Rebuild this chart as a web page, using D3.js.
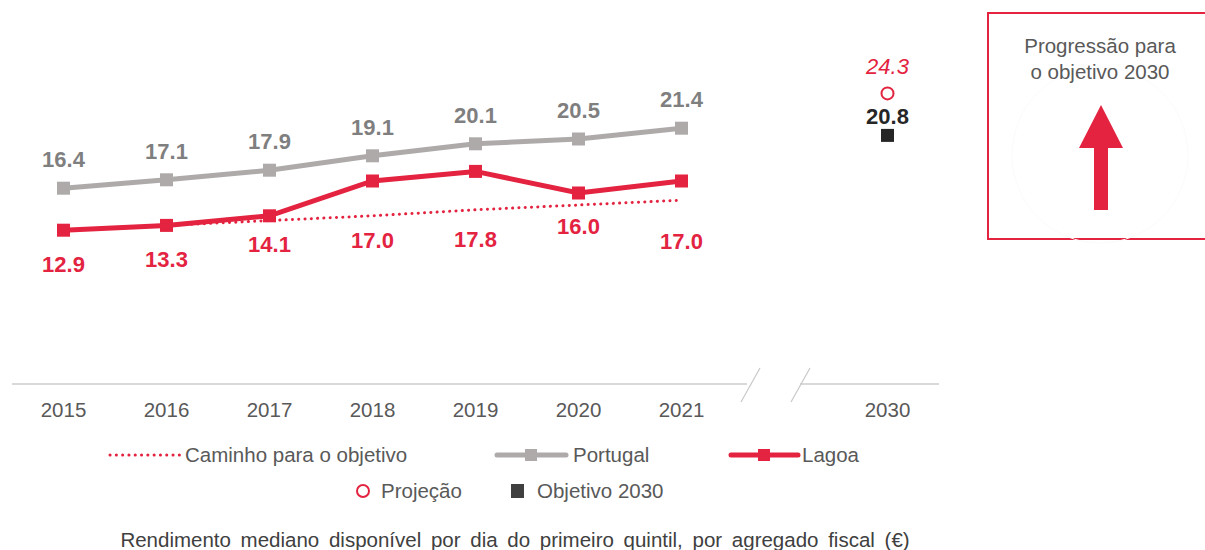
<!DOCTYPE html>
<html>
<head>
<meta charset="utf-8">
<script src="https://cdn.jsdelivr.net/npm/d3@7"></script>
<style>
  body { margin: 0; background: #fff; }
  svg { font-family: "Liberation Sans", Arial, sans-serif; }
</style>
</head>
<body>
<div id="container"></div>
<script>
/* DATA */
const years = ["2015", "2016", "2017", "2018", "2019", "2020", "2021"]
const portugal = [16.4, 17.1, 17.9, 19.1, 20.1, 20.5, 21.4]
const lagoa = [12.9, 13.3, 14.1, 17.0, 17.8, 16.0, 17.0]
const pathYears = ["2016", "2017", "2018", "2019", "2020", "2021"]
const pathValues = [13.3, 13.7, 14.1, 14.6, 15.0, 15.4]
const targetYear = "2030"
const projection = 24.3
const target = 20.8

/* CONSTANTS */
const width = 1205
const height = 550
const red = "#e3233f"
const grey = "#aeaaaa"
const textGrey = "#595959"
const fs = 20.5   // regular text
const fsb = 22    // bold value labels
// label nudges for Lagoa, px below each point (manually placed in the original)
const lagoaLabelDy = [34, 34, 28, 59, 68, 33, 60]

const svg = d3.select("#container")
  .append("svg")
  .attr("width", width)
  .attr("height", height)

/* SCALES */
const xScale = d3.scaleBand()
  .domain([...years, "gap", targetYear])
  .range([12, 939])
const xc = d => xScale(d) + xScale.bandwidth() / 2

const yScale = d3.scaleLinear()
  .domain([0, 30])
  .range([385, 25])

/* AXIS with break */
const axisY = 384
const breakX = xScale("gap")
svg.append("line")
  .attr("x1", 12).attr("x2", breakX + 14)
  .attr("y1", axisY).attr("y2", axisY)
  .attr("stroke", "#d9d9d9").attr("stroke-width", 2)
svg.append("line")
  .attr("x1", breakX + 67).attr("x2", 939)
  .attr("y1", axisY).attr("y2", axisY)
  .attr("stroke", "#d9d9d9").attr("stroke-width", 2)
;[breakX + 17, breakX + 67].forEach(x => {
  svg.append("line")
    .attr("x1", x + 10).attr("y1", axisY - 16)
    .attr("x2", x - 9).attr("y2", axisY + 18)
    .attr("stroke", "#c8c8c8").attr("stroke-width", 1.2)
})

svg.selectAll(".year")
  .data([...years, targetYear])
  .join("text")
  .attr("class", "year")
  .attr("x", d => xc(d))
  .attr("y", 417)
  .attr("text-anchor", "middle")
  .attr("font-size", fs)
  .attr("fill", textGrey)
  .text(d => d)

/* LINES */
const line = d3.line()
  .x(d => xc(d[0]))
  .y(d => yScale(d[1]))

svg.append("path")
  .datum(d3.zip(pathYears, pathValues))
  .attr("d", line)
  .attr("fill", "none")
  .attr("stroke", red)
  .attr("stroke-width", 3)
  .attr("stroke-linecap", "round")
  .attr("stroke-dasharray", "0.1 6.2")

svg.append("path")
  .datum(d3.zip(years, portugal))
  .attr("d", line)
  .attr("fill", "none")
  .attr("stroke", grey)
  .attr("stroke-width", 5)

svg.append("path")
  .datum(d3.zip(years, lagoa))
  .attr("d", line)
  .attr("fill", "none")
  .attr("stroke", red)
  .attr("stroke-width", 5)

const ms = 13
svg.selectAll(".pt-marker")
  .data(d3.zip(years, portugal))
  .join("rect")
  .attr("x", d => xc(d[0]) - ms / 2)
  .attr("y", d => yScale(d[1]) - ms / 2)
  .attr("width", ms).attr("height", ms)
  .attr("fill", grey)

svg.selectAll(".lg-marker")
  .data(d3.zip(years, lagoa))
  .join("rect")
  .attr("x", d => xc(d[0]) - ms / 2)
  .attr("y", d => yScale(d[1]) - ms / 2)
  .attr("width", ms).attr("height", ms)
  .attr("fill", red)

/* LABELS */
svg.selectAll(".pt-label")
  .data(d3.zip(years, portugal))
  .join("text")
  .attr("x", d => xc(d[0]))
  .attr("y", d => yScale(d[1]) - 21)
  .attr("text-anchor", "middle")
  .attr("font-size", fsb).attr("font-weight", "bold")
  .attr("fill", "#7f7f7f")
  .text(d => d[1].toFixed(1))

svg.selectAll(".lg-label")
  .data(d3.zip(years, lagoa))
  .join("text")
  .attr("x", d => xc(d[0]))
  .attr("y", (d, i) => yScale(d[1]) + lagoaLabelDy[i] + 8)
  .attr("text-anchor", "middle")
  .attr("font-size", fsb).attr("font-weight", "bold")
  .attr("fill", red)
  .text(d => d[1].toFixed(1))

/* 2030 points */
svg.append("circle")
  .attr("cx", xc(targetYear)).attr("cy", yScale(projection))
  .attr("r", 6)
  .attr("fill", "#fff").attr("stroke", red).attr("stroke-width", 2)
svg.append("text")
  .attr("x", xc(targetYear)).attr("y", yScale(projection) - 19)
  .attr("text-anchor", "middle")
  .attr("font-size", fsb).attr("font-style", "italic")
  .attr("fill", red)
  .text(projection.toFixed(1))

svg.append("rect")
  .attr("x", xc(targetYear) - 6.5).attr("y", yScale(target) - 6.5)
  .attr("width", 13).attr("height", 13)
  .attr("fill", "#262626")
svg.append("text")
  .attr("x", xc(targetYear)).attr("y", yScale(target) - 11)
  .attr("text-anchor", "middle")
  .attr("font-size", fsb).attr("font-weight", "bold")
  .attr("fill", "#262626")
  .text(target.toFixed(1))

/* LEGEND */
const lg = svg.append("g").attr("font-size", fs).attr("fill", textGrey)
const row1 = 455, row2 = 491

lg.append("line")
  .attr("x1", 110).attr("x2", 180).attr("y1", row1).attr("y2", row1)
  .attr("stroke", red).attr("stroke-width", 3)
  .attr("stroke-linecap", "round").attr("stroke-dasharray", "0.1 6.2")
lg.append("text").attr("x", 185).attr("y", row1 + 7).text("Caminho para o objetivo")

lg.append("line")
  .attr("x1", 497).attr("x2", 566).attr("y1", row1).attr("y2", row1)
  .attr("stroke", grey).attr("stroke-width", 5).attr("stroke-linecap", "round")
lg.append("rect").attr("x", 525).attr("y", row1 - 6).attr("width", 12).attr("height", 12).attr("fill", grey)
lg.append("text").attr("x", 573).attr("y", row1 + 7).text("Portugal")

lg.append("line")
  .attr("x1", 731).attr("x2", 798).attr("y1", row1).attr("y2", row1)
  .attr("stroke", red).attr("stroke-width", 5).attr("stroke-linecap", "round")
lg.append("rect").attr("x", 758).attr("y", row1 - 6).attr("width", 12).attr("height", 12).attr("fill", red)
lg.append("text").attr("x", 802).attr("y", row1 + 7).text("Lagoa")

lg.append("circle").attr("cx", 363).attr("cy", row2).attr("r", 6)
  .attr("fill", "#fff").attr("stroke", red).attr("stroke-width", 2)
lg.append("text").attr("x", 381).attr("y", row2 + 7).text("Projeção")
lg.append("rect").attr("x", 511).attr("y", row2 - 7).attr("width", 13).attr("height", 14).attr("fill", "#404040")
lg.append("text").attr("x", 537).attr("y", row2 + 7).text("Objetivo 2030")

/* CAPTION */
svg.append("text")
  .attr("x", 515).attr("y", 547)
  .attr("text-anchor", "middle")
  .attr("font-size", fs).attr("fill", "#404040")
  .attr("word-spacing", 4)
  .text("Rendimento mediano disponível por dia do primeiro quintil, por agregado fiscal (€)")

/* PROGRESS BOX */
const box = svg.append("g")
box.append("rect")
  .attr("x", 988).attr("y", 13).attr("width", 240).attr("height", 226)
  .attr("fill", "none").attr("stroke", red).attr("stroke-width", 2)
box.append("circle")
  .attr("cx", 1100).attr("cy", 155).attr("r", 88)
  .attr("fill", "none").attr("stroke", "#fbfbfb")
box.selectAll(".bt")
  .data(["Progressão para", "o objetivo 2030"])
  .join("text")
  .attr("x", 1100).attr("y", (d, i) => 53 + i * 26)
  .attr("text-anchor", "middle")
  .attr("font-size", fs).attr("fill", textGrey)
  .text(d => d)
box.append("path")
  .attr("d", "M1101,105 L1123,148 L1108,148 L1108,210 L1094,210 L1094,148 L1079,148 Z")
  .attr("fill", red)
</script>
</body>
</html>
